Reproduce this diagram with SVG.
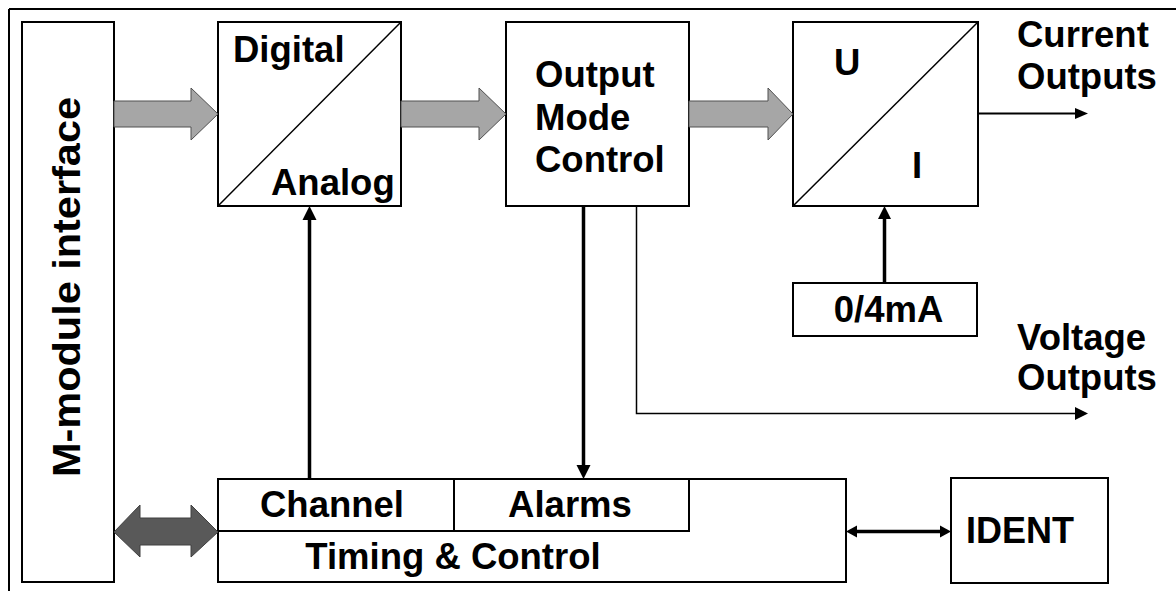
<svg xmlns="http://www.w3.org/2000/svg" width="1176" height="591" viewBox="0 0 1176 591">
  <style>
    .box { fill: #ffffff; stroke: #000000; stroke-width: 2; }
    .diag { stroke: #000000; stroke-width: 1.5; fill: none; }
    .lbl { font-family: "Liberation Sans", Arial, sans-serif; font-weight: bold; font-size: 36.5px; fill: #000000; }
    .mid { text-anchor: middle; }
    .bus { fill: #a6a6a6; stroke: #505050; stroke-width: 1; }
    .bus-dark { fill: #595959; stroke: #404040; stroke-width: 1; }
    .wire { stroke: #000000; fill: none; }
    .head { fill: #000000; stroke: none; }
  </style>

  <!-- frame edges -->
  <g id="frame">
    <line x1="9" y1="9" x2="1176" y2="9" stroke="#000" stroke-width="2"/>
    <line x1="9" y1="9" x2="9" y2="591" stroke="#000" stroke-width="2"/>
  </g>

  <g id="mmodule">
    <rect class="box" x="22" y="22" width="92" height="560"/>
    <text class="lbl mid" transform="translate(80 287) rotate(-90)" style="font-size:39px" textLength="380" lengthAdjust="spacingAndGlyphs">M-module interface</text>
  </g>

  <g id="dac">
    <rect class="box" x="218" y="22" width="183" height="184"/>
    <line class="diag" x1="218" y1="206" x2="401" y2="22"/>
    <text class="lbl" x="233" y="62">Digital</text>
    <text class="lbl" x="271" y="195">Analog</text>
  </g>

  <g id="omc">
    <rect class="box" x="506" y="22" width="183" height="184"/>
    <text class="lbl" x="535" y="87">Output</text>
    <text class="lbl" x="535" y="130">Mode</text>
    <text class="lbl" x="535" y="172">Control</text>
  </g>

  <g id="ui">
    <rect class="box" x="793" y="22" width="185" height="184"/>
    <line class="diag" x1="793" y1="206" x2="978" y2="22"/>
    <text class="lbl" x="834" y="75">U</text>
    <text class="lbl" x="912" y="178">I</text>
  </g>

  <g id="current-source">
    <rect class="box" x="793" y="283" width="184" height="53"/>
    <text class="lbl mid" x="888.5" y="322">0/4mA</text>
  </g>

  <g id="timing">
    <rect class="box" x="218" y="479" width="628" height="103"/>
    <rect class="box" x="218" y="479" width="236" height="52"/>
    <rect class="box" x="454" y="479" width="235" height="52"/>
    <text class="lbl mid" x="332" y="517">Channel</text>
    <text class="lbl mid" x="570" y="517">Alarms</text>
    <text class="lbl mid" x="453" y="569">Timing &amp; Control</text>
  </g>

  <g id="ident">
    <rect class="box" x="951" y="478" width="157" height="105"/>
    <text class="lbl" x="966" y="543" style="font-size:36px">IDENT</text>
  </g>

  <g id="outputs-text">
    <text class="lbl" x="1017" y="47">Current</text>
    <text class="lbl" x="1017" y="89">Outputs</text>
    <text class="lbl" x="1017" y="350">Voltage</text>
    <text class="lbl" x="1017" y="390">Outputs</text>
  </g>

  <g id="connectors">
    <!-- wide data paths -->
    <polygon class="bus" points="114,101 191,101 191,88 218,114 191,140 191,127 114,127"/>
    <polygon class="bus" points="401,101 479,101 479,88 506,114 479,140 479,127 401,127"/>
    <polygon class="bus" points="689,101 768,101 768,88 793,114 768,140 768,127 689,127"/>
    <polygon class="bus-dark" points="114,532 140,505 140,518 191,518 191,505 218,532 191,557 191,545 140,545 140,557"/>

    <!-- channel select to converter -->
    <line class="wire" x1="309.5" y1="479" x2="309.5" y2="218" stroke-width="3.5"/>
    <polygon class="head" points="309.5,206 302.5,220 316.5,220"/>

    <!-- mode control to alarms -->
    <line class="wire" x1="583.5" y1="206" x2="583.5" y2="466" stroke-width="3.5"/>
    <polygon class="head" points="583.5,479 576.5,465 590.5,465"/>

    <!-- voltage output path -->
    <polyline class="wire" points="636.5,206 636.5,413.5 1076,413.5" stroke-width="1.5"/>
    <polygon class="head" points="1088,413.5 1075,407 1075,420"/>

    <!-- current output -->
    <line class="wire" x1="978" y1="113.5" x2="1076" y2="113.5" stroke-width="2"/>
    <polygon class="head" points="1088,113.5 1075,108 1075,119"/>

    <!-- current range select -->
    <line class="wire" x1="884.5" y1="283" x2="884.5" y2="218" stroke-width="3.5"/>
    <polygon class="head" points="884.5,206 878,219 891,219"/>

    <!-- ident link -->
    <line class="wire" x1="855" y1="531.5" x2="941" y2="531.5" stroke-width="3.5"/>
    <polygon class="head" points="846,531.5 857,525.5 857,537.5"/>
    <polygon class="head" points="951,531.5 940,525.5 940,537.5"/>
  </g>
</svg>
